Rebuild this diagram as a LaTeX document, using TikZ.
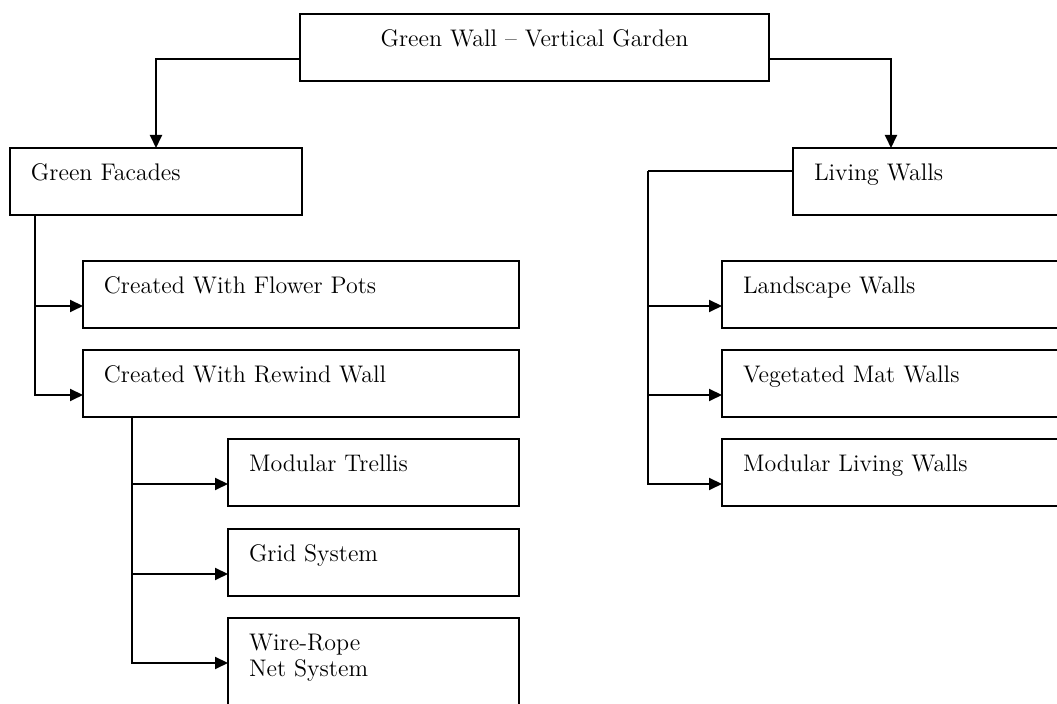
\documentclass[tikz,border=0pt]{standalone}
\usepackage{tikz}
\usetikzlibrary{arrows.meta}

\begin{document}
\begin{tikzpicture}[x=0.5pt,y=-0.5pt,line width=1pt,
  wbox/.style={draw,anchor=north west,outer sep=0pt,inner xsep=10.5pt,inner ysep=0pt,
    text width=#1,align=left,text height=16.5pt,text depth=17pt,
    font=\fontsize{12}{13}\selectfont},
  arr/.style={-{Triangle[length=6.5pt,width=6pt]}}]

\useasboundingbox (0,0) rectangle (1057,704);

%Define offsets
\def\drop{-22.5pt}     %Where arrows meet a box, measured from its top.
\def\lift{-11.5pt}     %Where the Living Walls line leaves its box.

% Top box
\node[wbox=213.5pt,align=center] (gw) at (300,14) {Green Wall -- Vertical Garden};

% Green facades branch
\node[wbox=125pt] (gf) at (10,148) {Green Facades};
\node[wbox=197pt] (fp) at (83,261) {Created With Flower Pots};
\node[wbox=197pt] (rw) at (83,350) {Created With Rewind Wall};
\node[wbox=124.5pt] (mt) at (228,439) {Modular Trellis};
\node[wbox=124.5pt] (gs) at (228,529) {Grid System};
\node[wbox=124.5pt,text depth=35pt] (wr) at (228,618) {Wire-Rope\\Net System};

% Living walls branch
\node[wbox=132.5pt] (lw) at (793,148) {Living Walls};
\node[wbox=168pt] (ls) at (722,261) {Landscape Walls};
\node[wbox=168pt] (vm) at (722,350) {Vegetated Mat Walls};
\node[wbox=168pt] (ml) at (722,439) {Modular Living Walls};

% Top arrows
\draw[arr] ([yshift=\drop]gw.north west) -| (gf.north);
\draw[arr] ([yshift=\drop]gw.north east) -| ([xshift=49pt]lw.north west);

% Bus lines
\coordinate (gfbus) at ([xshift=12.5pt]gf.south west);
\coordinate (rwbus) at ([xshift=24.5pt]rw.south west);
\coordinate (lwbus) at ([xshift=-72.5pt,yshift=\lift]lw.north west);

\draw[arr] (gfbus) |- ([yshift=\drop]fp.north west);
\draw[arr] (gfbus) |- ([yshift=\drop]rw.north west);

\draw[arr] (rwbus) |- ([yshift=\drop]mt.north west);
\draw[arr] (rwbus) |- ([yshift=\drop]gs.north west);
\draw[arr] (rwbus) |- ([yshift=\drop]wr.north west);

\draw (lwbus) -- ([yshift=\lift]lw.north west);
\draw[arr] (lwbus) |- ([yshift=\drop]ls.north west);
\draw[arr] (lwbus) |- ([yshift=\drop]vm.north west);
\draw[arr] (lwbus) |- ([yshift=\drop]ml.north west);

\end{tikzpicture}
\end{document}
